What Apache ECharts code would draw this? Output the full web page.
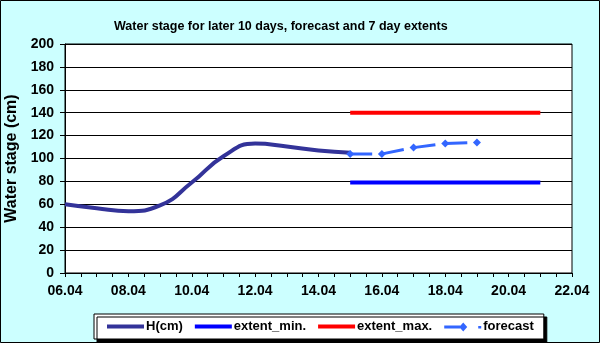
<!DOCTYPE html>
<html lang="en">
<head>
    <meta charset="utf-8"/>
    <title>Water stage</title>
    <script type="text/javascript" src="https://cdn.jsdelivr.net/npm/echarts@6/dist/echarts.min.js"></script>
    <style>
        html, body {
            margin: 0;
            background: #ccffff;
        }

        #chart {
            width: 600px;
            height: 343px;
        }
    </style>
</head>
<body>
<div id="chart"></div>
<script>
    // observed water stage
    var hDates = ['06.04', '07.04', '08.04', '09.04', '10.04', '11.04', '12.04', '13.04', '14.04', '15.04']
    var hValues = [60, 56.5, 54, 59, 79, 102, 113, 110.5, 107, 105]

    // forecast
    var fcDates = ['15.04', '16.04', '17.04', '18.04', '19.04']
    var fcValues = [104, 104, 109.5, 113, 114]

    // 7 day extents
    var extDates = ['15.04', '21.04']
    var extMin = [79, 79]
    var extMax = [140, 140]

    var yTicks = [0, 200, 20]
    var xTicks = [6, 22, 2]
    var monthSuffix = '.04'

    var FONT = 'Arial, "Liberation Sans", sans-serif'
    // legend icons: thick line, and dash + diamond + dot
    var LINE_ICON = 'path://M0,0 L37,0 L37,4 L0,4 Z'
    var FC_ICON = 'path://M0,4 L16,4 L16,7 L0,7 Z M19,1 L23,5.5 L19,10 L15,5.5 Z M34,4.5 L37,4.5 L37,7 L34,7 Z M0,0 L0.01,0 L0.01,0.01 Z'

    function day(s) {
        return Number(s.slice(0, 2))
    }

    function pairs(dates, values) {
        return dates.map(function (d, i) {
            return [day(d), values[i]]
        })
    }

    var chart = echarts.init(document.getElementById('chart'))
    chart.setOption({
        animation: false,
        backgroundColor: '#ccffff',
        textStyle: {fontFamily: FONT},
        title: {
            text: 'Water stage for later 10 days, forecast and 7 day extents',
            left: 109,
            top: 15,
            textStyle: {fontSize: 12.5, fontWeight: 'bold', color: '#000', fontFamily: FONT}
        },
        graphic: [{
            type: 'rect',
            shape: {x: 0.5, y: 0.5, width: 599, height: 342},
            style: {fill: 'none', stroke: '#000', lineWidth: 1},
            silent: true
        }],
        grid: {
            left: 65, right: 28, top: 44, bottom: 70,
            outerBoundsMode: 'none',
            containLabel: false,
            show: true,
            backgroundColor: '#fff',
            borderColor: '#000',
            borderWidth: 1
        },
        legend: {
            left: 94,
            top: 314,
            itemWidth: 37,
            itemHeight: 10,
            itemGap: 12,
            padding: [6, 10, 6, 13],
            backgroundColor: '#fff',
            borderColor: '#000',
            borderWidth: 1,
            shadowColor: '#000',
            shadowOffsetX: 3,
            shadowOffsetY: 3,
            shadowBlur: 0,
            textStyle: {fontSize: 13, fontWeight: 'bold', color: '#000', fontFamily: FONT, padding: [0, 0, 0, -3]},
            data: [
                {name: 'H(cm)', icon: LINE_ICON},
                {name: 'extent_min.', icon: LINE_ICON},
                {name: 'extent_max.', icon: LINE_ICON},
                {name: 'forecast', icon: FC_ICON}
            ]
        },
        xAxis: {
            type: 'value',
            min: xTicks[0],
            max: xTicks[1],
            interval: xTicks[2],
            axisLine: {show: true, onZero: false, lineStyle: {color: '#000', width: 1}},
            axisTick: {show: true, length: 4, lineStyle: {color: '#000'}},
            minorTick: {show: true, splitNumber: 4, length: 4, lineStyle: {color: '#000'}},
            splitLine: {show: false},
            axisLabel: {
                margin: 11,
                fontSize: 14,
                fontWeight: 'bold',
                color: '#000',
                fontFamily: FONT,
                formatter: function (v) {
                    return (v < 10 ? '0' + v : '' + v) + monthSuffix
                }
            }
        },
        yAxis: {
            type: 'value',
            min: yTicks[0],
            max: yTicks[1],
            interval: yTicks[2],
            name: 'Water stage (cm)',
            nameLocation: 'middle',
            nameGap: 38,
            nameTextStyle: {fontSize: 16, fontWeight: 'bold', color: '#000', fontFamily: FONT},
            axisLine: {show: true, lineStyle: {color: '#000', width: 1}},
            axisTick: {show: true, length: 5, lineStyle: {color: '#000'}},
            splitLine: {show: true, lineStyle: {color: '#000', width: 1}},
            axisLabel: {
                margin: 11,
                fontSize: 14,
                fontWeight: 'bold',
                color: '#000',
                fontFamily: FONT
            }
        },
        series: [
            {
                name: 'H(cm)',
                type: 'line',
                smooth: 0.5,
                showSymbol: false,
                symbol: 'none',
                color: '#333399',
                lineStyle: {width: 4, color: '#333399'},
                data: pairs(hDates, hValues),
                z: 3
            },
            {
                name: 'extent_min.',
                type: 'line',
                symbol: 'none',
                color: '#0000ff',
                lineStyle: {width: 4, color: '#0000ff'},
                data: pairs(extDates, extMin)
            },
            {
                name: 'extent_max.',
                type: 'line',
                symbol: 'none',
                color: '#ff0000',
                lineStyle: {width: 4, color: '#ff0000'},
                data: pairs(extDates, extMax)
            },
            {
                name: 'forecast',
                type: 'line',
                symbol: 'diamond',
                symbolSize: 8,
                showAllSymbol: true,
                color: '#3366ff',
                itemStyle: {color: '#3366ff'},
                lineStyle: {width: 3, color: '#3366ff', type: [22, 10]},
                data: pairs(fcDates, fcValues),
                z: 4
            }
        ]
    })
</script>
</body>
</html>
